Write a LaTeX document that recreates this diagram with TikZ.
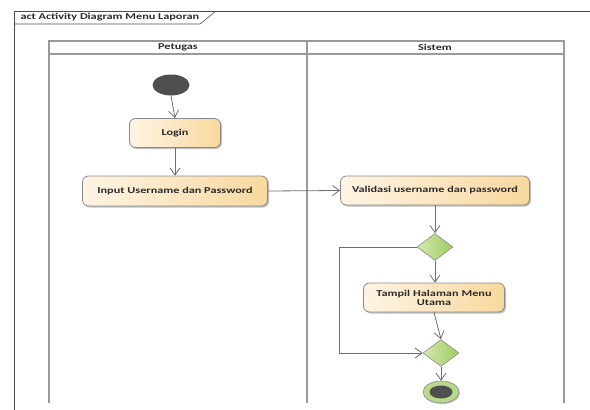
\documentclass[tikz,border=0pt]{standalone}
\usepackage{fontspec}
\setmainfont{Carlito}[FakeStretch=1.36]
\usetikzlibrary{arrows.meta,shapes.geometric,shadows}
\definecolor{lanegray}{HTML}{9A9A9A}
\definecolor{edgegray}{HTML}{6E6E6E}
\definecolor{boxborder}{HTML}{8A8A8A}
\definecolor{creamL}{HTML}{FEF4E4}
\definecolor{creamR}{HTML}{F8D89E}
\definecolor{greenL}{HTML}{D3E8B0}
\definecolor{greenR}{HTML}{9FCC62}
\definecolor{darknode}{HTML}{4F4F4F}
\definecolor{textdark}{HTML}{2B2B2B}
\tikzset{
  lane/.style={draw=lanegray, line width=1.4pt},
  action/.style={draw=boxborder, line width=0.8pt, rounded corners=6pt, left color=creamL, right color=creamR,
    minimum height=29pt, font=\fontsize{9}{10.5}\selectfont\bfseries, text=textdark, align=center,
    drop shadow={shadow xshift=1.5pt, shadow yshift=-1.5pt, opacity=0.25, fill=black}},
  decision/.style={diamond, draw=boxborder, line width=0.6pt, left color=greenL, right color=greenR,
    minimum width=36pt, minimum height=27pt, inner sep=0pt, aspect=1.33},
  flow/.style={draw=edgegray, line width=0.8pt, -{Straight Barb[length=7pt,width=10pt]}},
  hdr/.style={font=\fontsize{9}{10}\selectfont\bfseries, text=textdark},
}
\begin{document}
\begin{tikzpicture}[x=1pt,y=-1pt]
\useasboundingbox (0,0) rectangle (590,410);
% outer frame
\draw[draw=black!70, line width=0.6pt] (590,11) -- (14,11) -- (14,410);
\draw[draw=black!70, line width=0.6pt] (14,24) -- (200,24) -- (216,11);
\node[hdr, anchor=west] (title) at (17,17.5) {act Activity Diagram Menu Laporan};
% swimlanes
\draw[lane] (49,403) -- (49,41) -- (564,41) -- (564,403);
\draw[lane] (49,54) -- (564,54);
\draw[lane] (307,41) -- (307,403);
\node[hdr] (petugas) at (178,47.5) {Petugas};
\node[hdr] (sistem) at (435,47.5) {Sistem};
% nodes
\node[ellipse, fill=darknode, minimum width=37pt, minimum height=21pt, inner sep=0pt] (init) at (171,85) {};
\node[action, minimum width=91pt] (login) at (175,133) {Login};
\node[action, minimum width=185pt, minimum height=30pt] (input) at (175,191) {Input Username dan Password};
\node[action, minimum width=189pt] (valid) at (435,190.5) {Validasi username dan password};
\node[decision] (d1) at (435,247) {};
\node[action, minimum width=141pt, text width=120pt] (tampil) at (434,297.5) {Tampil Halaman Menu\\[-1.5pt]Utama};
\node[decision] (d2) at (441,353) {};
\node[ellipse, draw=boxborder, line width=0.6pt, fill=greenR!75!white, minimum width=36pt, minimum height=22pt, inner sep=0pt,
  drop shadow={shadow xshift=1pt, shadow yshift=-1pt, opacity=0.25, fill=black}] (final) at (441,392) {};
\node[ellipse, fill=darknode, minimum width=23pt, minimum height=13pt, inner sep=0pt] (finalin) at (441,392) {};
\coordinate (lt) at (339,247);
\coordinate (lb) at (339,353);
% connectors
\draw[flow] (init.south) -- (login.north);
\draw[flow] (login) -- (input);
\draw[flow] (input.east) -- (valid.west);
\draw[flow] (valid.south) -- (d1.north);
\draw[flow] (d1.south) -- (d1.south |- tampil.north);
\draw[flow] (tampil.south) -- (d2.north);
\draw[flow] (d1.west) -- (lt) -- (lb) -- (d2.west);
\draw[flow] (d2.south) -- (final.north);
\end{tikzpicture}
\end{document}
